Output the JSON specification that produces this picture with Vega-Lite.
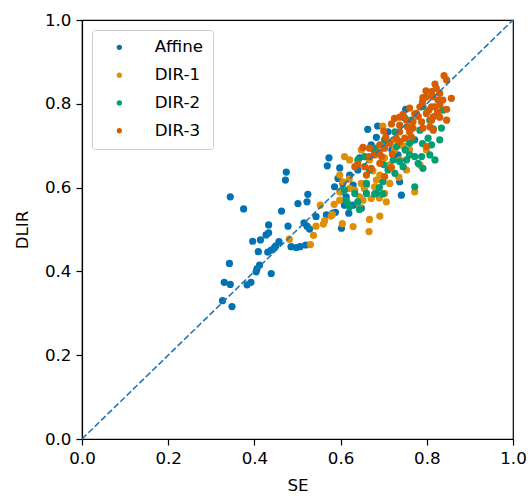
{
  "$schema": "https://vega.github.io/schema/vega-lite/v6.json",
  "autosize": {"type": "none"},
  "padding": {"left": 82, "top": 20, "right": 16, "bottom": 58},
  "width": 431,
  "height": 419,
  "background": "white",
  "config": {
    "view": {"stroke": "black", "strokeWidth": 1.2},
    "font": "DejaVu Sans",
    "axis": {
      "labelFont": "DejaVu Sans", "labelFontSize": 16.7, "labelColor": "black", "labelFlush": false,
      "titleFont": "DejaVu Sans", "titleFontSize": 16.7, "titleColor": "black", "titleFontWeight": "normal",
      "tickColor": "black", "tickSize": 6, "tickWidth": 1.2,
      "domainColor": "black", "domainWidth": 1.2, "grid": false, "labelPadding": 5
    }
  },
  "datasets": {
    "pts": [
      {"SE":0.573,"DLIR":0.671,"method":"Affine"},{"SE":0.569,"DLIR":0.652,"method":"Affine"},{"SE":0.474,"DLIR":0.637,"method":"Affine"},{"SE":0.472,"DLIR":0.618,"method":"Affine"},
      {"SE":0.344,"DLIR":0.578,"method":"Affine"},{"SE":0.375,"DLIR":0.549,"method":"Affine"},{"SE":0.463,"DLIR":0.544,"method":"Affine"},{"SE":0.501,"DLIR":0.562,"method":"Affine"},
      {"SE":0.524,"DLIR":0.584,"method":"Affine"},{"SE":0.522,"DLIR":0.566,"method":"Affine"},{"SE":0.588,"DLIR":0.541,"method":"Affine"},{"SE":0.567,"DLIR":0.535,"method":"Affine"},
      {"SE":0.543,"DLIR":0.531,"method":"Affine"},{"SE":0.602,"DLIR":0.503,"method":"Affine"},{"SE":0.515,"DLIR":0.516,"method":"Affine"},{"SE":0.522,"DLIR":0.508,"method":"Affine"},
      {"SE":0.528,"DLIR":0.501,"method":"Affine"},{"SE":0.433,"DLIR":0.511,"method":"Affine"},{"SE":0.478,"DLIR":0.508,"method":"Affine"},{"SE":0.433,"DLIR":0.492,"method":"Affine"},
      {"SE":0.427,"DLIR":0.487,"method":"Affine"},{"SE":0.396,"DLIR":0.472,"method":"Affine"},{"SE":0.414,"DLIR":0.475,"method":"Affine"},{"SE":0.457,"DLIR":0.471,"method":"Affine"},
      {"SE":0.485,"DLIR":0.459,"method":"Affine"},{"SE":0.497,"DLIR":0.457,"method":"Affine"},{"SE":0.519,"DLIR":0.463,"method":"Affine"},{"SE":0.506,"DLIR":0.459,"method":"Affine"},
      {"SE":0.447,"DLIR":0.458,"method":"Affine"},{"SE":0.439,"DLIR":0.451,"method":"Affine"},{"SE":0.431,"DLIR":0.446,"method":"Affine"},{"SE":0.450,"DLIR":0.461,"method":"Affine"},
      {"SE":0.409,"DLIR":0.447,"method":"Affine"},{"SE":0.412,"DLIR":0.415,"method":"Affine"},{"SE":0.406,"DLIR":0.406,"method":"Affine"},{"SE":0.404,"DLIR":0.399,"method":"Affine"},
      {"SE":0.342,"DLIR":0.419,"method":"Affine"},{"SE":0.439,"DLIR":0.395,"method":"Affine"},{"SE":0.330,"DLIR":0.374,"method":"Affine"},{"SE":0.344,"DLIR":0.369,"method":"Affine"},
      {"SE":0.383,"DLIR":0.368,"method":"Affine"},{"SE":0.392,"DLIR":0.374,"method":"Affine"},{"SE":0.326,"DLIR":0.330,"method":"Affine"},{"SE":0.348,"DLIR":0.316,"method":"Affine"},
      {"SE":0.751,"DLIR":0.787,"method":"Affine"},{"SE":0.686,"DLIR":0.747,"method":"Affine"},{"SE":0.663,"DLIR":0.739,"method":"Affine"},{"SE":0.710,"DLIR":0.733,"method":"Affine"},
      {"SE":0.683,"DLIR":0.720,"method":"Affine"},{"SE":0.671,"DLIR":0.702,"method":"Affine"},{"SE":0.679,"DLIR":0.686,"method":"Affine"},{"SE":0.594,"DLIR":0.622,"method":"Affine"},
      {"SE":0.605,"DLIR":0.610,"method":"Affine"},{"SE":0.602,"DLIR":0.590,"method":"Affine"},{"SE":0.613,"DLIR":0.578,"method":"Affine"},{"SE":0.621,"DLIR":0.630,"method":"Affine"},
      {"SE":0.640,"DLIR":0.642,"method":"Affine"},{"SE":0.737,"DLIR":0.614,"method":"Affine"},{"SE":0.741,"DLIR":0.582,"method":"Affine"},{"SE":0.733,"DLIR":0.678,"method":"Affine"},
      {"SE":0.629,"DLIR":0.558,"method":"Affine"},{"SE":0.648,"DLIR":0.551,"method":"Affine"},{"SE":0.609,"DLIR":0.558,"method":"Affine"},{"SE":0.586,"DLIR":0.602,"method":"Affine"},
      {"SE":0.619,"DLIR":0.539,"method":"Affine"},{"SE":0.582,"DLIR":0.539,"method":"Affine"},{"SE":0.629,"DLIR":0.606,"method":"Affine"},{"SE":0.719,"DLIR":0.690,"method":"Affine"},
      {"SE":0.772,"DLIR":0.714,"method":"Affine"},{"SE":0.598,"DLIR":0.647,"method":"Affine"},{"SE":0.644,"DLIR":0.671,"method":"Affine"},
      {"SE":0.553,"DLIR":0.558,"method":"DIR-1"},{"SE":0.543,"DLIR":0.508,"method":"DIR-1"},{"SE":0.530,"DLIR":0.464,"method":"DIR-1"},{"SE":0.481,"DLIR":0.477,"method":"DIR-1"},
      {"SE":0.537,"DLIR":0.486,"method":"DIR-1"},{"SE":0.563,"DLIR":0.521,"method":"DIR-1"},{"SE":0.560,"DLIR":0.513,"method":"DIR-1"},{"SE":0.578,"DLIR":0.532,"method":"DIR-1"},
      {"SE":0.604,"DLIR":0.514,"method":"DIR-1"},{"SE":0.667,"DLIR":0.524,"method":"DIR-1"},{"SE":0.666,"DLIR":0.495,"method":"DIR-1"},{"SE":0.629,"DLIR":0.507,"method":"DIR-1"},
      {"SE":0.691,"DLIR":0.532,"method":"DIR-1"},{"SE":0.581,"DLIR":0.536,"method":"DIR-1"},{"SE":0.644,"DLIR":0.551,"method":"DIR-1"},{"SE":0.698,"DLIR":0.747,"method":"DIR-1"},
      {"SE":0.648,"DLIR":0.690,"method":"DIR-1"},{"SE":0.621,"DLIR":0.666,"method":"DIR-1"},{"SE":0.598,"DLIR":0.630,"method":"DIR-1"},{"SE":0.605,"DLIR":0.614,"method":"DIR-1"},
      {"SE":0.621,"DLIR":0.598,"method":"DIR-1"},{"SE":0.648,"DLIR":0.610,"method":"DIR-1"},{"SE":0.660,"DLIR":0.606,"method":"DIR-1"},{"SE":0.679,"DLIR":0.602,"method":"DIR-1"},
      {"SE":0.683,"DLIR":0.618,"method":"DIR-1"},{"SE":0.691,"DLIR":0.630,"method":"DIR-1"},{"SE":0.702,"DLIR":0.586,"method":"DIR-1"},{"SE":0.706,"DLIR":0.566,"method":"DIR-1"},
      {"SE":0.671,"DLIR":0.574,"method":"DIR-1"},{"SE":0.652,"DLIR":0.570,"method":"DIR-1"},{"SE":0.772,"DLIR":0.590,"method":"DIR-1"},{"SE":0.753,"DLIR":0.642,"method":"DIR-1"},
      {"SE":0.799,"DLIR":0.690,"method":"DIR-1"},{"SE":0.598,"DLIR":0.570,"method":"DIR-1"},{"SE":0.644,"DLIR":0.578,"method":"DIR-1"},{"SE":0.598,"DLIR":0.590,"method":"DIR-1"},
      {"SE":0.609,"DLIR":0.674,"method":"DIR-1"},{"SE":0.726,"DLIR":0.714,"method":"DIR-1"},{"SE":0.760,"DLIR":0.690,"method":"DIR-1"},{"SE":0.737,"DLIR":0.666,"method":"DIR-1"},
      {"SE":0.784,"DLIR":0.654,"method":"DIR-1"},{"SE":0.714,"DLIR":0.654,"method":"DIR-1"},{"SE":0.633,"DLIR":0.594,"method":"DIR-1"},{"SE":0.667,"DLIR":0.666,"method":"DIR-1"},
      {"SE":0.760,"DLIR":0.742,"method":"DIR-1"},{"SE":0.702,"DLIR":0.671,"method":"DIR-1"},
      {"SE":0.655,"DLIR":0.598,"method":"DIR-1"},{"SE":0.690,"DLIR":0.575,"method":"DIR-1"},{"SE":0.714,"DLIR":0.610,"method":"DIR-1"},{"SE":0.735,"DLIR":0.625,"method":"DIR-1"},
      {"SE":0.675,"DLIR":0.640,"method":"DIR-1"},{"SE":0.700,"DLIR":0.700,"method":"DIR-1"},{"SE":0.725,"DLIR":0.690,"method":"DIR-1"},{"SE":0.745,"DLIR":0.700,"method":"DIR-1"},
      {"SE":0.620,"DLIR":0.620,"method":"DIR-1"},{"SE":0.585,"DLIR":0.560,"method":"DIR-1"},
      {"SE":0.838,"DLIR":0.785,"method":"DIR-2"},{"SE":0.834,"DLIR":0.742,"method":"DIR-2"},{"SE":0.791,"DLIR":0.793,"method":"DIR-2"},{"SE":0.803,"DLIR":0.718,"method":"DIR-2"},
      {"SE":0.811,"DLIR":0.702,"method":"DIR-2"},{"SE":0.788,"DLIR":0.674,"method":"DIR-2"},{"SE":0.791,"DLIR":0.646,"method":"DIR-2"},{"SE":0.772,"DLIR":0.674,"method":"DIR-2"},
      {"SE":0.780,"DLIR":0.658,"method":"DIR-2"},{"SE":0.760,"DLIR":0.678,"method":"DIR-2"},{"SE":0.753,"DLIR":0.666,"method":"DIR-2"},{"SE":0.737,"DLIR":0.662,"method":"DIR-2"},
      {"SE":0.745,"DLIR":0.650,"method":"DIR-2"},{"SE":0.722,"DLIR":0.666,"method":"DIR-2"},{"SE":0.726,"DLIR":0.634,"method":"DIR-2"},{"SE":0.710,"DLIR":0.642,"method":"DIR-2"},
      {"SE":0.768,"DLIR":0.714,"method":"DIR-2"},{"SE":0.760,"DLIR":0.706,"method":"DIR-2"},{"SE":0.726,"DLIR":0.733,"method":"DIR-2"},{"SE":0.730,"DLIR":0.698,"method":"DIR-2"},
      {"SE":0.679,"DLIR":0.694,"method":"DIR-2"},{"SE":0.656,"DLIR":0.674,"method":"DIR-2"},{"SE":0.640,"DLIR":0.666,"method":"DIR-2"},{"SE":0.660,"DLIR":0.586,"method":"DIR-2"},
      {"SE":0.640,"DLIR":0.566,"method":"DIR-2"},{"SE":0.633,"DLIR":0.586,"method":"DIR-2"},{"SE":0.613,"DLIR":0.570,"method":"DIR-2"},{"SE":0.772,"DLIR":0.602,"method":"DIR-2"},
      {"SE":0.683,"DLIR":0.586,"method":"DIR-2"},{"SE":0.621,"DLIR":0.554,"method":"DIR-2"},{"SE":0.698,"DLIR":0.614,"method":"DIR-2"},{"SE":0.609,"DLIR":0.594,"method":"DIR-2"},
      {"SE":0.679,"DLIR":0.585,"method":"DIR-2"},{"SE":0.698,"DLIR":0.585,"method":"DIR-2"},{"SE":0.617,"DLIR":0.561,"method":"DIR-2"},{"SE":0.644,"DLIR":0.548,"method":"DIR-2"},
      {"SE":0.764,"DLIR":0.761,"method":"DIR-2"},{"SE":0.807,"DLIR":0.678,"method":"DIR-2"},{"SE":0.830,"DLIR":0.714,"method":"DIR-2"},{"SE":0.784,"DLIR":0.737,"method":"DIR-2"},
      {"SE":0.749,"DLIR":0.766,"method":"DIR-2"},{"SE":0.807,"DLIR":0.761,"method":"DIR-2"},{"SE":0.702,"DLIR":0.714,"method":"DIR-2"},{"SE":0.667,"DLIR":0.642,"method":"DIR-2"},
      {"SE":0.819,"DLIR":0.666,"method":"DIR-2"},
      {"SE":0.815,"DLIR":0.740,"method":"DIR-2"},{"SE":0.790,"DLIR":0.705,"method":"DIR-2"},{"SE":0.750,"DLIR":0.690,"method":"DIR-2"},{"SE":0.700,"DLIR":0.655,"method":"DIR-2"},
      {"SE":0.660,"DLIR":0.610,"method":"DIR-2"},{"SE":0.690,"DLIR":0.600,"method":"DIR-2"},
      {"SE":0.840,"DLIR":0.867,"method":"DIR-3"},{"SE":0.846,"DLIR":0.857,"method":"DIR-3"},{"SE":0.819,"DLIR":0.847,"method":"DIR-3"},{"SE":0.798,"DLIR":0.831,"method":"DIR-3"},
      {"SE":0.811,"DLIR":0.829,"method":"DIR-3"},{"SE":0.830,"DLIR":0.825,"method":"DIR-3"},{"SE":0.857,"DLIR":0.813,"method":"DIR-3"},{"SE":0.799,"DLIR":0.816,"method":"DIR-3"},
      {"SE":0.814,"DLIR":0.817,"method":"DIR-3"},{"SE":0.837,"DLIR":0.809,"method":"DIR-3"},{"SE":0.784,"DLIR":0.793,"method":"DIR-3"},{"SE":0.811,"DLIR":0.793,"method":"DIR-3"},
      {"SE":0.830,"DLIR":0.797,"method":"DIR-3"},{"SE":0.846,"DLIR":0.787,"method":"DIR-3"},{"SE":0.772,"DLIR":0.776,"method":"DIR-3"},{"SE":0.799,"DLIR":0.777,"method":"DIR-3"},
      {"SE":0.815,"DLIR":0.769,"method":"DIR-3"},{"SE":0.830,"DLIR":0.768,"method":"DIR-3"},{"SE":0.846,"DLIR":0.761,"method":"DIR-3"},{"SE":0.737,"DLIR":0.768,"method":"DIR-3"},
      {"SE":0.753,"DLIR":0.761,"method":"DIR-3"},{"SE":0.768,"DLIR":0.757,"method":"DIR-3"},{"SE":0.788,"DLIR":0.757,"method":"DIR-3"},{"SE":0.718,"DLIR":0.752,"method":"DIR-3"},
      {"SE":0.737,"DLIR":0.749,"method":"DIR-3"},{"SE":0.768,"DLIR":0.742,"method":"DIR-3"},{"SE":0.791,"DLIR":0.742,"method":"DIR-3"},{"SE":0.807,"DLIR":0.745,"method":"DIR-3"},
      {"SE":0.815,"DLIR":0.737,"method":"DIR-3"},{"SE":0.760,"DLIR":0.733,"method":"DIR-3"},{"SE":0.737,"DLIR":0.733,"method":"DIR-3"},{"SE":0.729,"DLIR":0.718,"method":"DIR-3"},
      {"SE":0.749,"DLIR":0.718,"method":"DIR-3"},{"SE":0.764,"DLIR":0.721,"method":"DIR-3"},{"SE":0.714,"DLIR":0.706,"method":"DIR-3"},{"SE":0.737,"DLIR":0.710,"method":"DIR-3"},
      {"SE":0.691,"DLIR":0.702,"method":"DIR-3"},{"SE":0.702,"DLIR":0.694,"method":"DIR-3"},{"SE":0.667,"DLIR":0.694,"method":"DIR-3"},{"SE":0.679,"DLIR":0.678,"method":"DIR-3"},
      {"SE":0.695,"DLIR":0.674,"method":"DIR-3"},{"SE":0.652,"DLIR":0.696,"method":"DIR-3"},{"SE":0.667,"DLIR":0.674,"method":"DIR-3"},{"SE":0.691,"DLIR":0.658,"method":"DIR-3"},
      {"SE":0.633,"DLIR":0.650,"method":"DIR-3"},{"SE":0.656,"DLIR":0.650,"method":"DIR-3"},{"SE":0.671,"DLIR":0.646,"method":"DIR-3"},{"SE":0.702,"DLIR":0.626,"method":"DIR-3"},
      {"SE":0.718,"DLIR":0.648,"method":"DIR-3"},{"SE":0.799,"DLIR":0.698,"method":"DIR-3"},{"SE":0.660,"DLIR":0.630,"method":"DIR-3"},{"SE":0.640,"DLIR":0.656,"method":"DIR-3"},
      {"SE":0.791,"DLIR":0.815,"method":"DIR-3"},{"SE":0.776,"DLIR":0.777,"method":"DIR-3"},{"SE":0.823,"DLIR":0.773,"method":"DIR-3"},{"SE":0.811,"DLIR":0.761,"method":"DIR-3"},
      {"SE":0.822,"DLIR":0.837,"method":"DIR-3"},{"SE":0.826,"DLIR":0.809,"method":"DIR-3"},{"SE":0.818,"DLIR":0.793,"method":"DIR-3"},
      {"SE":0.700,"DLIR":0.735,"method":"DIR-3"},{"SE":0.725,"DLIR":0.765,"method":"DIR-3"},{"SE":0.755,"DLIR":0.745,"method":"DIR-3"},{"SE":0.780,"DLIR":0.770,"method":"DIR-3"},
      {"SE":0.805,"DLIR":0.785,"method":"DIR-3"},{"SE":0.825,"DLIR":0.780,"method":"DIR-3"},{"SE":0.790,"DLIR":0.805,"method":"DIR-3"},{"SE":0.760,"DLIR":0.790,"method":"DIR-3"},
      {"SE":0.745,"DLIR":0.775,"method":"DIR-3"},{"SE":0.705,"DLIR":0.720,"method":"DIR-3"},{"SE":0.690,"DLIR":0.685,"method":"DIR-3"},{"SE":0.720,"DLIR":0.680,"method":"DIR-3"}
    ],
    "diag": [{"SE": 0, "DLIR": 0}, {"SE": 1, "DLIR": 1}]
  },
  "layer": [
    {
      "data": {"name": "pts"},
      "mark": {"type": "circle", "size": 52, "opacity": 1},
      "encoding": {
        "x": {"field": "SE", "type": "quantitative", "scale": {"domain": [0, 1], "nice": false},
              "axis": {"values": [0, 0.2, 0.4, 0.6, 0.8, 1.0], "format": ".1f", "title": "SE", "titlePadding": 11}},
        "y": {"field": "DLIR", "type": "quantitative", "scale": {"domain": [0, 1], "nice": false},
              "axis": {"values": [0, 0.2, 0.4, 0.6, 0.8, 1.0], "format": ".1f", "title": "DLIR", "titlePadding": 13}},
        "color": {
          "field": "method", "type": "nominal",
          "scale": {"domain": ["Affine", "DIR-1", "DIR-2", "DIR-3"], "range": ["#0173b2", "#de8f05", "#029e73", "#d55e00"]},
          "legend": {
            "title": null, "orient": "none", "legendX": 10, "legendY": 10,
            "symbolType": "circle", "symbolSize": 28, "symbolOffset": 10,
            "labelFont": "DejaVu Sans", "labelFontSize": 16.7, "labelColor": "black", "labelOffset": 27,
            "rowPadding": 9.8, "padding": 9,
            "strokeColor": "#cccccc", "fillColor": "rgba(255,255,255,0.8)", "cornerRadius": 3
          }
        }
      }
    },
    {
      "data": {"name": "diag"},
      "mark": {"type": "line", "color": "#1f77b4", "strokeWidth": 1.6, "strokeDash": [6.2, 2.7]},
      "encoding": {
        "x": {"field": "SE", "type": "quantitative"},
        "y": {"field": "DLIR", "type": "quantitative"}
      }
    }
  ]
}
